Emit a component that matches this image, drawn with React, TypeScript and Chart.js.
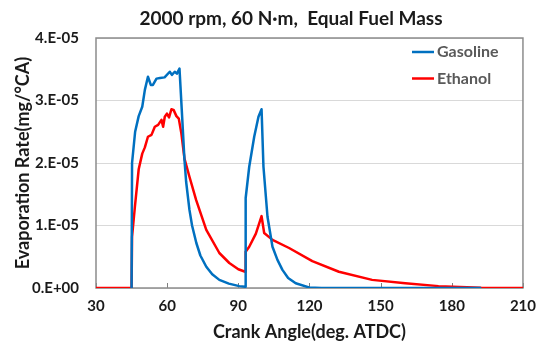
import React, { useEffect, useRef } from 'react';
import { Chart, registerables } from 'chart.js';

Chart.register(...registerables);

const UNIT = 1e-5;
const TITLE = '2000 rpm, 60 N·m,  Equal Fuel Mass';
const X_TITLE = 'Crank Angle(deg. ATDC)';
const Y_TITLE = 'Evaporation Rate(mg/°CA)';
const seriesNames = ['Gasoline', 'Ethanol'];
const seriesColors = ['#0070C0', '#FF0000'];

// values in units of 1e-5 mg/°CA
const gasolineAngle = [45, 45.2, 46.5, 48, 49.5, 50.6, 51.9, 53.1, 54, 55.5, 57, 58.9, 61.1, 62, 63.2, 64.1, 65.2, 66.3, 67.3, 68, 69.4, 70.5, 72.3, 74, 76.5, 79, 82, 86, 90.4, 92.9, 93.1, 94.6, 96.7, 98.5, 99.8, 100.6, 102.3, 104.4, 106.5, 108.6, 111, 114.2, 119.8, 125, 192];
const gasolineRate = [0, 2.0, 2.5, 2.75, 2.9, 3.17, 3.38, 3.25, 3.25, 3.35, 3.36, 3.37, 3.46, 3.41, 3.46, 3.43, 3.51, 2.75, 2.05, 1.7, 1.25, 1.0, 0.72, 0.52, 0.34, 0.22, 0.13, 0.07, 0.03, 0.02, 1.44, 1.94, 2.42, 2.74, 2.86, 1.94, 1.14, 0.66, 0.45, 0.29, 0.16, 0.075, 0.01, 0, 0];

const ethanolAngle = [30, 45, 45.2, 46.4, 48, 49.5, 50.6, 51.9, 53.4, 54.8, 56.2, 57.6, 58.3, 59, 59.9, 60.8, 61.8, 62.7, 63.9, 64.9, 66, 67.3, 69.4, 72.2, 76.5, 82, 86.2, 90, 92.9, 93.1, 94.6, 97.4, 99.8, 100.9, 104.4, 111.4, 121.2, 132.4, 146.4, 160.4, 174.4, 192.4, 210];
const ethanolRate = [0, 0, 0.82, 1.3, 1.9, 2.15, 2.25, 2.42, 2.45, 2.58, 2.61, 2.69, 2.58, 2.74, 2.79, 2.73, 2.86, 2.85, 2.75, 2.71, 2.47, 2.07, 1.78, 1.41, 0.93, 0.56, 0.4, 0.3, 0.26, 0.58, 0.66, 0.87, 1.15, 0.88, 0.77, 0.64, 0.43, 0.26, 0.13, 0.075, 0.03, 0.005, 0];

const X_MIN = 30;
const X_MAX = 210;
const X_STEP = 30;
const Y_MAX_UNITS = 4;

const FONT = 'Lato, "Open Sans", sans-serif';

function toPoints(xs: number[], ys: number[]) {
  return xs.map((x, i) => ({ x, y: ys[i] * UNIT }));
}

export default function App() {
  const ref = useRef<HTMLCanvasElement | null>(null);

  useEffect(() => {
    if (!ref.current) return;
    const decor = {
      id: 'decor',
      beforeDatasetsDraw(chart: any) {
        const { ctx, chartArea: a, scales } = chart;
        ctx.save();
        ctx.strokeStyle = '#7f7f7f';
        ctx.lineWidth = 1;
        scales.x.ticks.forEach((t: any) => {
          const px = Math.round(scales.x.getPixelForValue(t.value)) + 0.5;
          ctx.beginPath();
          ctx.moveTo(px, a.bottom);
          ctx.lineTo(px, a.bottom - 5);
          ctx.stroke();
        });
        ctx.strokeStyle = '#8c8c8c';
        ctx.lineWidth = 1.5;
        ctx.strokeRect(a.left, a.top, a.right - a.left, a.bottom - a.top);
        ctx.restore();
      },
      afterDraw(chart: any) {
        const { ctx } = chart;
        ctx.save();
        ctx.fillStyle = '#1a1a1a';
        ctx.font = `bold 19px ${FONT}`;
        ctx.textAlign = 'center';
        ctx.textBaseline = 'middle';
        ctx.fillText(TITLE, 291, 19);
        chart.data.datasets.forEach((ds: any, i: number) => {
          const y = 52 + i * 26.5;
          ctx.strokeStyle = ds.borderColor;
          ctx.lineWidth = 2.5;
          ctx.beginPath();
          ctx.moveTo(412, y);
          ctx.lineTo(434, y);
          ctx.stroke();
          ctx.fillStyle = '#595959';
          ctx.font = `bold 16px ${FONT}`;
          ctx.textAlign = 'left';
          ctx.textBaseline = 'middle';
          ctx.fillText(ds.label, 437, y);
        });
        ctx.restore();
      },
    };

    const chart = new Chart(ref.current, {
      type: 'line',
      data: {
        datasets: [
          {
            label: seriesNames[0],
            data: toPoints(gasolineAngle, gasolineRate),
            borderColor: seriesColors[0],
            backgroundColor: seriesColors[0],
          },
          {
            label: seriesNames[1],
            data: toPoints(ethanolAngle, ethanolRate),
            borderColor: seriesColors[1],
            backgroundColor: seriesColors[1],
          },
        ],
      },
      options: {
        animation: false,
        responsive: false,
        maintainAspectRatio: false,
        layout: { padding: { top: 38, right: 20, left: 0, bottom: 0 } },
        elements: {
          point: { radius: 0 },
          line: { borderWidth: 2.5, tension: 0, borderJoinStyle: 'round', borderCapStyle: 'round' },
        },
        plugins: {
          legend: { display: false },
          title: { display: false },
          tooltip: { enabled: false },
        },
        scales: {
          x: {
            type: 'linear',
            min: X_MIN,
            max: X_MAX,
            grid: { display: false, drawTicks: false },
            border: { display: false },
            ticks: {
              stepSize: X_STEP,
              padding: 9,
              color: '#1a1a1a',
              font: { family: FONT, size: 15, weight: 'bold' },
              maxRotation: 0,
            },
            title: {
              display: true,
              text: X_TITLE,
              color: '#1a1a1a',
              font: { family: FONT, size: 18, weight: 'bold' },
              padding: { top: 0, bottom: 2 },
            },
            afterFit: (s: any) => {
              s.height = 57;
            },
          },
          y: {
            type: 'linear',
            min: 0,
            max: Y_MAX_UNITS * UNIT,
            grid: { color: '#d9d9d9', lineWidth: 1, drawTicks: false },
            border: { display: false },
            ticks: {
              stepSize: UNIT,
              padding: 17,
              color: '#1a1a1a',
              font: { family: FONT, size: 15, weight: 'bold' },
              callback: (v: any) => {
                const n = Math.round(Number(v) / UNIT);
                return n === 0 ? '0.E+00' : `${n}.E-05`;
              },
            },
            title: {
              display: true,
              text: Y_TITLE,
              color: '#1a1a1a',
              font: { family: FONT, size: 18, weight: 'bold' },
              padding: { top: 12, bottom: 0 },
            },
            afterFit: (s: any) => {
              s.width = 96;
            },
          },
        },
      },
      plugins: [decor],
    });
    return () => chart.destroy();
  }, []);

  return (
    <div style={{ position: 'fixed', left: 0, top: 0, width: 545, height: 345, background: '#fff' }}>
      <canvas ref={ref} width={545} height={345} style={{ display: 'block' }} />
    </div>
  );
}
